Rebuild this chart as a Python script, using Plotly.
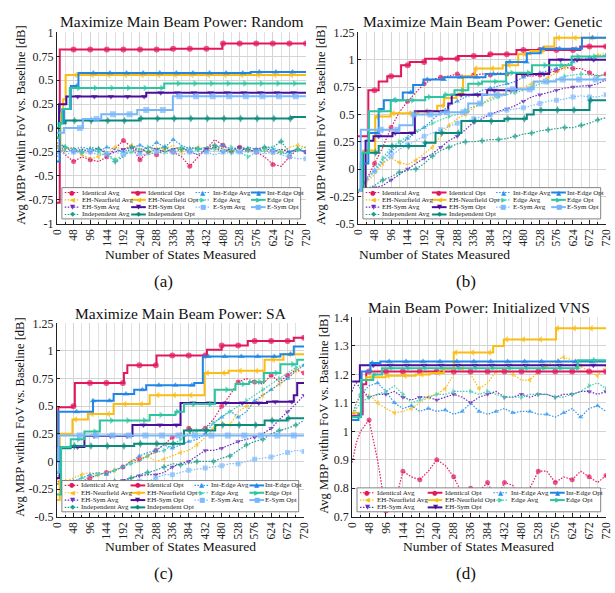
import plotly.graph_objects as go

W, H = 615, 593
SERIF = "Liberation Serif"

# ---------------- shared x grid / ticks ----------------
XA = [0, 6, 12, 24, 48, 72, 96, 120, 144, 168, 192, 216, 240, 264, 288, 312,
      336, 360, 384, 408, 432, 456, 480, 504, 528, 552, 576, 600, 624, 648, 672, 696, 720]
X_TICKS = [0, 48, 96, 144, 192, 240, 288, 336, 384, 432, 480, 528, 576, 624, 672, 720]
X_TICK_TEXT = ["0", "48", "96", "144", "192", "240", "288", "336", "384", "432",
               "480", "528", "576", "624", "672", "720"]

Y_TICKS_A = [-1, -0.75, -0.5, -0.25, 0, 0.25, 0.5, 0.75, 1]
Y_TEXT_A = ["-1", "-0.75", "-0.5", "-0.25", "0", "0.25", "0.5", "0.75", "1"]
Y_TICKS_BC = [-0.5, -0.25, 0, 0.25, 0.5, 0.75, 1, 1.25]
Y_TEXT_BC = ["-0.5", "-0.25", "0", "0.25", "0.5", "0.75", "1", "1.25"]
Y_TICKS_D = [0.7, 0.8, 0.9, 1.0, 1.1, 1.2, 1.3, 1.4]
Y_TEXT_D = ["0.7", "0.8", "0.9", "1", "1.1", "1.2", "1.3", "1.4"]

# ---------------- panel (a): Random ----------------
A_IDENT_AVG = [-0.15, -0.2, -0.22, -0.28, -0.35, -0.3, -0.33, -0.35, -0.3, -0.22,
               -0.13, -0.2, -0.33, -0.25, -0.28, -0.22, -0.25, -0.3, -0.4, -0.3,
               -0.22, -0.12, -0.18, -0.25, -0.2, -0.22, -0.25, -0.3, -0.38, -0.4,
               -0.3, -0.22, -0.25]
A_NEAR_AVG = [-0.15, -0.2, -0.25, -0.22, -0.2, -0.28, -0.32, -0.3, -0.25, -0.2,
              -0.22, -0.18, -0.22, -0.25, -0.2, -0.22, -0.18, -0.25, -0.22, -0.2,
              -0.25, -0.2, -0.22, -0.25, -0.2, -0.22, -0.25, -0.22, -0.28, -0.25,
              -0.2, -0.18, -0.2]
A_SYM_AVG = [-0.2, -0.22, -0.18, -0.2, -0.25, -0.22, -0.25, -0.2, -0.28, -0.25,
             -0.22, -0.2, -0.25, -0.2, -0.22, -0.25, -0.22, -0.2, -0.25, -0.28,
             -0.22, -0.2, -0.25, -0.22, -0.2, -0.25, -0.22, -0.2, -0.25, -0.22,
             -0.25, -0.22, -0.25]
A_INDEP_AVG = [-0.2, -0.18, -0.17, -0.2, -0.22, -0.25, -0.2, -0.22, -0.25, -0.35,
               -0.3, -0.2, -0.22, -0.25, -0.22, -0.2, -0.25, -0.22, -0.2, -0.22,
               -0.2, -0.18, -0.22, -0.25, -0.2, -0.22, -0.25, -0.2, -0.2, -0.14,
               -0.25, -0.22, -0.25]
A_INT_AVG = [-0.3, -0.22, -0.2, -0.25, -0.22, -0.2, -0.22, -0.25, -0.2, -0.22,
             -0.25, -0.2, -0.18, -0.22, -0.15, -0.2, -0.12, -0.18, -0.22, -0.2,
             -0.25, -0.2, -0.18, -0.22, -0.25, -0.2, -0.22, -0.25, -0.22, -0.27,
             -0.25, -0.22, -0.25]
A_EDGE_AVG = [-0.18, -0.2, -0.22, -0.2, -0.22, -0.25, -0.2, -0.25, -0.3, -0.33,
              -0.28, -0.25, -0.22, -0.2, -0.22, -0.25, -0.22, -0.2, -0.25, -0.22,
              -0.2, -0.22, -0.25, -0.2, -0.25, -0.3, -0.25, -0.22, -0.2, -0.25,
              -0.28, -0.22, -0.2]
A_ESYM_AVG = [-0.25, -0.22, -0.25, -0.28, -0.25, -0.27, -0.25, -0.28, -0.27, -0.25,
              -0.28, -0.25, -0.27, -0.28, -0.25, -0.27, -0.25, -0.28, -0.25, -0.27,
              -0.25, -0.28, -0.25, -0.27, -0.25, -0.25, -0.25, -0.27, -0.25, -0.28,
              -0.3, -0.32, -0.32]
A_IDENT_OPT_X = [0, 8, 330, 478, 720]
A_IDENT_OPT_Y = [-0.78, 0.82, 0.83, 0.885, 0.885]
A_NEAR_OPT_X = [0, 10, 18, 25, 720]
A_NEAR_OPT_Y = [-0.2, 0.15, 0.3, 0.555, 0.555]
A_SYM_OPT_X = [0, 6, 27, 258, 720]
A_SYM_OPT_Y = [-0.1, 0.25, 0.33, 0.37, 0.37]
A_INDEP_OPT_X = [0, 5, 25, 238, 678, 720]
A_INDEP_OPT_Y = [0.0, 0.05, 0.078, 0.1, 0.115, 0.115]
A_INT_OPT_X = [0, 8, 20, 40, 62, 560, 720]
A_INT_OPT_Y = [-0.35, 0.05, 0.2, 0.44, 0.575, 0.585, 0.585]
A_EDGE_OPT_X = [0, 8, 15, 37, 310, 720]
A_EDGE_OPT_Y = [-0.1, 0.05, 0.2, 0.42, 0.465, 0.465]
A_ESYM_OPT_X = [0, 20, 75, 128, 232, 335, 720]
A_ESYM_OPT_Y = [-0.05, 0.0, 0.095, 0.145, 0.19, 0.333, 0.333]

# ---------------- panel (b): Genetic ----------------
B_IDENT_AVG = [-0.22, -0.18, -0.15, -0.1, 0.05, 0.2, 0.38, 0.52, 0.62, 0.7,
               0.78, 0.82, 0.84, 0.85, 0.87, 0.85, 0.86, 0.87, 0.86, 0.88,
               0.87, 0.88, 0.86, 0.85, 0.86, 0.88, 0.9, 0.93, 0.92, 0.92,
               0.88, 0.85, 0.87]
B_NEAR_AVG = [-0.2, -0.18, -0.15, -0.12, -0.05, 0.05, 0.1, 0.06, 0.04, 0.08,
              0.14, 0.2, 0.3, 0.4, 0.46, 0.5, 0.56, 0.6, 0.65, 0.68,
              0.7, 0.72, 0.75, 0.78, 0.8, 0.84, 0.88, 0.93, 0.98, 1.0,
              1.02, 1.04, 1.06]
B_SYM_AVG = [-0.2, -0.2, -0.19, -0.18, -0.17, -0.15, -0.1, -0.05, 0.0, 0.05,
             0.1, 0.14, 0.2, 0.26, 0.3, 0.36, 0.43, 0.46, 0.5, 0.53,
             0.55, 0.58, 0.62, 0.66, 0.68, 0.7, 0.72, 0.74, 0.75, 0.76,
             0.76, 0.78, 0.82]
B_INDEP_AVG = [-0.2, -0.2, -0.19, -0.18, -0.15, -0.1, -0.07, -0.03, -0.01, 0.0,
               0.05, 0.12, 0.17, 0.2, 0.23, 0.25, 0.25, 0.26, 0.27, 0.27,
               0.28, 0.3, 0.32, 0.33, 0.35, 0.36, 0.37, 0.38, 0.38, 0.4,
               0.42, 0.45, 0.47]
B_INT_AVG = [-0.2, -0.18, -0.15, -0.1, -0.02, 0.08, 0.16, 0.22, 0.28, 0.33,
             0.38, 0.45, 0.52, 0.58, 0.62, 0.66, 0.68, 0.72, 0.74, 0.76,
             0.78, 0.8, 0.84, 0.86, 0.88, 0.9, 0.92, 0.95, 0.98, 1.0,
             1.02, 1.03, 1.04]
B_EDGE_AVG = [-0.2, -0.18, -0.15, -0.1, 0.0, 0.1, 0.2, 0.25, 0.3, 0.35,
              0.38, 0.42, 0.45, 0.48, 0.5, 0.54, 0.57, 0.6, 0.63, 0.66,
              0.68, 0.7, 0.72, 0.75, 0.78, 0.8, 0.82, 0.85, 0.86, 0.87,
              0.86, 0.85, 0.86]
B_ESYM_AVG = [-0.2, -0.18, -0.15, -0.1, -0.02, 0.06, 0.12, 0.18, 0.22, 0.26,
              0.3, 0.33, 0.36, 0.39, 0.42, 0.44, 0.46, 0.48, 0.5, 0.52,
              0.54, 0.55, 0.56, 0.58, 0.6, 0.62, 0.63, 0.64, 0.66, 0.67,
              0.66, 0.66, 0.68]
B_IDENT_OPT_X = [0, 30, 60, 85, 125, 150, 195, 290, 380, 460, 645, 720]
B_IDENT_OPT_Y = [0.3, 0.72, 0.8, 0.85, 0.95, 0.98, 1.01, 1.035, 1.05, 1.09, 1.12, 1.12]
B_NEAR_OPT_X = [0, 15, 50, 95, 175, 230, 250, 285, 305, 340, 420, 465, 500, 540, 570, 720]
B_NEAR_OPT_Y = [-0.2, 0.17, 0.48, 0.51, 0.53, 0.58, 0.65, 0.68, 0.85, 0.92, 0.95, 1.05, 1.08, 1.12, 1.2, 1.2]
B_SYM_OPT_X = [0, 22, 45, 100, 165, 262, 272, 375, 460, 555, 720]
B_SYM_OPT_Y = [-0.2, 0.26, 0.3, 0.33, 0.53, 0.6, 0.68, 0.72, 0.87, 1.0, 1.0]
B_INDEP_OPT_X = [0, 15, 60, 195, 225, 300, 425, 490, 510, 672, 720]
B_INDEP_OPT_Y = [-0.2, 0.15, 0.21, 0.24, 0.33, 0.44, 0.46, 0.5, 0.54, 0.63, 0.63]
B_INT_OPT_X = [0, 8, 30, 60, 75, 130, 160, 190, 250, 370, 430, 490, 530, 650, 720]
B_INT_OPT_Y = [-0.2, 0.05, 0.33, 0.55, 0.63, 0.70, 0.77, 0.82, 0.84, 0.87, 0.98, 1.06, 1.1, 1.2, 1.21]
B_EDGE_OPT_X = [0, 12, 32, 95, 195, 250, 280, 320, 360, 430, 505, 620, 720]
B_EDGE_OPT_Y = [-0.2, 0.15, 0.53, 0.63, 0.66, 0.68, 0.72, 0.78, 0.8, 0.88, 0.95, 1.03, 1.04]
B_ESYM_OPT_X = [0, 8, 120, 160, 240, 320, 360, 430, 510, 575, 720]
B_ESYM_OPT_Y = [-0.2, 0.36, 0.4, 0.5, 0.52, 0.6, 0.68, 0.73, 0.8, 0.82, 0.82]

# ---------------- panel (c): SA ----------------
C_IDENT_AVG = [-0.15, -0.2, -0.22, -0.22, -0.2, -0.18, -0.15, -0.12, -0.1, -0.08,
               -0.05, 0.0, 0.02, 0.05, 0.1, 0.15, 0.22, 0.25, 0.3, 0.28,
               0.3, 0.38, 0.5, 0.6, 0.72, 0.75, 0.72, 0.7, 0.78, 0.72,
               0.78, 0.83, 0.8]
C_NEAR_AVG = [-0.2, -0.22, -0.2, -0.18, -0.15, -0.12, -0.1, -0.12, -0.1, -0.08,
              -0.05, 0.0, 0.02, 0.05, 0.0, 0.02, 0.05, 0.08, 0.1, 0.15,
              0.22, 0.3, 0.35, 0.33, 0.45, 0.5, 0.52, 0.6, 0.65, 0.7,
              0.75, 0.82, 0.88]
C_SYM_AVG = [-0.2, -0.2, -0.2, -0.22, -0.2, -0.2, -0.2, -0.18, -0.2, -0.2,
             -0.17, -0.15, -0.13, -0.12, -0.12, -0.1, -0.05, -0.02, 0.0, 0.05,
             0.1, 0.1, 0.12, 0.15, 0.18, 0.2, 0.22, 0.25, 0.3, 0.38,
             0.45, 0.52, 0.6]
C_INDEP_AVG = [-0.2, -0.2, -0.2, -0.2, -0.22, -0.2, -0.2, -0.2, -0.2, -0.18,
               -0.18, -0.15, -0.12, -0.1, -0.08, -0.05, -0.02, -0.03, -0.02, 0.0,
               0.0, 0.0, 0.03, 0.05, 0.1, 0.15, 0.18, 0.2, 0.25, 0.28,
               0.3, 0.33, 0.37]
C_INT_AVG = [-0.1, -0.15, -0.17, -0.18, -0.18, -0.15, -0.12, -0.1, -0.12, -0.08,
             -0.05, 0.0, 0.05, 0.08, 0.1, 0.15, 0.12, 0.15, 0.18, 0.2,
             0.25, 0.35, 0.4, 0.46, 0.4, 0.45, 0.55, 0.6, 0.65, 0.7,
             0.75, 0.82, 0.87]
C_EDGE_AVG = [-0.2, -0.2, -0.2, -0.2, -0.18, -0.15, -0.15, -0.12, -0.1, -0.08,
              -0.05, -0.02, 0.0, 0.05, 0.08, 0.1, 0.15, 0.2, 0.25, 0.28,
              0.3, 0.35, 0.4, 0.45, 0.5, 0.55, 0.6, 0.65, 0.7, 0.75,
              0.8, 0.85, 0.88]
C_ESYM_AVG = [-0.1, -0.15, -0.17, -0.2, -0.22, -0.22, -0.25, -0.25, -0.22, -0.2,
              -0.2, -0.2, -0.18, -0.18, -0.15, -0.12, -0.12, -0.1, -0.08, -0.07,
              -0.06, -0.05, -0.04, -0.02, -0.02, 0.0, 0.02, 0.03, 0.04, 0.06,
              0.08, 0.1, 0.09]
C_IDENT_OPT_X = [0, 4, 45, 52, 195, 205, 290, 437, 480, 556, 690, 720]
C_IDENT_OPT_Y = [0.14, 0.49, 0.5, 0.71, 0.8, 0.87, 0.96, 1.01, 1.05, 1.09, 1.12, 1.12]
C_NEAR_OPT_X = [0, 8, 45, 90, 165, 270, 430, 500, 605, 660, 720]
C_NEAR_OPT_Y = [-0.35, 0.25, 0.38, 0.43, 0.52, 0.6, 0.8, 0.82, 0.92, 0.97, 0.97]
C_SYM_OPT_X = [0, 8, 80, 220, 360, 612, 690, 700, 720]
C_SYM_OPT_Y = [-0.15, 0.13, 0.23, 0.33, 0.53, 0.54, 0.6, 0.71, 0.71]
C_INDEP_OPT_X = [0, 7, 40, 225, 370, 461, 605, 670, 720]
C_INDEP_OPT_Y = [-0.1, 0.12, 0.14, 0.16, 0.28, 0.33, 0.37, 0.39, 0.395]
C_INT_OPT_X = [0, 4, 105, 165, 225, 260, 400, 425, 651, 690, 720]
C_INT_OPT_Y = [0.0, 0.45, 0.55, 0.61, 0.65, 0.69, 0.71, 0.95, 0.97, 1.04, 1.04]
C_EDGE_OPT_X = [0, 12, 40, 80, 125, 270, 345, 370, 460, 520, 560, 603, 651, 700, 720]
C_EDGE_OPT_Y = [-0.3, 0.13, 0.2, 0.27, 0.37, 0.42, 0.45, 0.52, 0.65, 0.7, 0.72, 0.8, 0.88, 0.92, 0.92]
C_ESYM_OPT_X = [0, 5, 720]
C_ESYM_OPT_Y = [-0.1, 0.235, 0.235]

# ---------------- panel (d): Initialized VNS ----------------
D_IDENT_AVG = [0.89, 0.93, 0.96, 1.0, 1.04, 0.9, 0.72, 0.74, 0.86, 0.84,
               0.83, 0.86, 0.9, 0.88, 0.84, 0.78, 0.8, 0.79, 0.82, 0.76,
               0.82, 0.81, 0.74, 0.8, 0.86, 0.86, 0.82, 0.84, 0.83, 0.86,
               0.84, 0.82, 0.845]
D_NEAR_AVG = [1.06, 1.08, 1.1, 1.12, 1.13, 1.1, 1.08, 1.065, 1.07, 1.08,
              1.1, 1.12, 1.13, 1.15, 1.2, 1.22, 1.2, 1.15, 1.17, 1.21,
              1.22, 1.2, 1.18, 1.18, 1.21, 1.23, 1.25, 1.26, 1.25, 1.23,
              1.21, 1.195, 1.23]
D_SYM_AVG = [1.14, 1.16, 1.17, 1.15, 1.12, 1.13, 1.13, 1.14, 1.12, 1.11,
             1.12, 1.12, 1.11, 1.12, 1.13, 1.12, 1.1, 1.12, 1.13, 1.14,
             1.12, 1.12, 1.13, 1.12, 1.13, 1.13, 1.12, 1.13, 1.13, 1.14,
             1.14, 1.13, 1.14]
D_INT_AVG = [1.05, 1.08, 1.1, 1.13, 1.16, 1.17, 1.14, 1.1, 1.08, 1.09,
             1.07, 1.08, 1.07, 1.075, 1.06, 1.07, 1.1, 1.07, 1.06, 1.07,
             1.08, 1.065, 1.07, 1.07, 1.06, 1.06, 1.05, 1.065, 1.08, 1.05,
             1.08, 1.09, 1.07]
D_EDGE_AVG = [1.04, 1.06, 1.08, 1.1, 1.12, 1.13, 1.14, 1.16, 1.13, 1.1,
              1.11, 1.12, 1.13, 1.13, 1.14, 1.14, 1.14, 1.13, 1.14, 1.13,
              1.12, 1.12, 1.12, 1.13, 1.13, 1.13, 1.12, 1.12, 1.13, 1.14,
              1.16, 1.17, 1.15]
D_IDENT_OPT_X = [0, 22, 30, 40, 720]
D_IDENT_OPT_Y = [1.055, 1.06, 1.165, 1.21, 1.21]
D_NEAR_OPT_X = [0, 25, 40, 95, 180, 220, 260, 288, 400, 430, 578, 720]
D_NEAR_OPT_Y = [1.065, 1.18, 1.19, 1.195, 1.2, 1.205, 1.22, 1.277, 1.3, 1.323, 1.362, 1.362]
D_SYM_OPT_X = [0, 22, 720]
D_SYM_OPT_Y = [1.175, 1.232, 1.232]
D_INT_OPT_X = [0, 18, 27, 52, 80, 720]
D_INT_OPT_Y = [1.04, 1.06, 1.21, 1.24, 1.245, 1.245]
D_EDGE_OPT_X = [0, 25, 60, 85, 640, 720]
D_EDGE_OPT_Y = [1.05, 1.18, 1.2, 1.222, 1.25, 1.25]

# ---------------- styles ----------------
SERIES = ["Identical", "EH-Nearfield", "EH-Sym", "Independent", "Int-Edge", "Edge", "E-Sym"]
COL_OPT = {"Identical": "#E3175E", "EH-Nearfield": "#FBBD12", "EH-Sym": "#4A0E9A",
           "Independent": "#0B8B7E", "Int-Edge": "#1F86E6", "Edge": "#2DC5A0", "E-Sym": "#78B6FA"}
COL_AVG = {"Identical": "#E3175E", "EH-Nearfield": "#FBBD12", "EH-Sym": "#6B2EBF",
           "Independent": "#1C9E8E", "Int-Edge": "#2B95F0", "Edge": "#3DCFAC", "E-Sym": "#7DBBFF"}
SYMBOL = {"Identical": "circle", "EH-Nearfield": "triangle-left", "EH-Sym": "triangle-down",
          "Independent": "star-diamond", "Int-Edge": "triangle-up", "Edge": "triangle-right",
          "E-Sym": "square"}
GLYPH = {"Identical": "●", "EH-Nearfield": "◀", "EH-Sym": "▼", "Independent": "◆",
         "Int-Edge": "▲", "Edge": "▶", "E-Sym": "■"}
MARK_OFF = {"Identical": 0, "EH-Nearfield": 6, "EH-Sym": 12, "Independent": 3,
            "Int-Edge": 9, "Edge": 15, "E-Sym": 18}
AVG_DASH = "1.5px,1.5px"

PANELS = [
    dict(xa="x", ya="y", box=(52, 26, 306, 222), yr=[-1, 1], yt=Y_TICKS_A, ytt=Y_TEXT_A,
         title="Maximize Main Beam Power: Random", cap="(a)",
         title_y=15, ytitle_x=15, xtitle=(178, 253), capxy=(161, 281),
         data={"Identical": (A_IDENT_AVG, A_IDENT_OPT_X, A_IDENT_OPT_Y),
               "EH-Nearfield": (A_NEAR_AVG, A_NEAR_OPT_X, A_NEAR_OPT_Y),
               "EH-Sym": (A_SYM_AVG, A_SYM_OPT_X, A_SYM_OPT_Y),
               "Independent": (A_INDEP_AVG, A_INDEP_OPT_X, A_INDEP_OPT_Y),
               "Int-Edge": (A_INT_AVG, A_INT_OPT_X, A_INT_OPT_Y),
               "Edge": (A_EDGE_AVG, A_EDGE_OPT_X, A_EDGE_OPT_Y),
               "E-Sym": (A_ESYM_AVG, A_ESYM_OPT_X, A_ESYM_OPT_Y)},
         cols=[["Identical", "EH-Nearfield", "EH-Sym", "Independent"], ["Int-Edge", "Edge", "E-Sym"]]),
    dict(xa="x2", ya="y2", box=(359, 26, 612, 222), yr=[-0.5, 1.25], yt=Y_TICKS_BC, ytt=Y_TEXT_BC,
         title="Maximize Main Beam Power: Genetic", cap="(b)",
         title_y=15, ytitle_x=321, xtitle=(437, 253), capxy=(469, 281),
         data={"Identical": (B_IDENT_AVG, B_IDENT_OPT_X, B_IDENT_OPT_Y),
               "EH-Nearfield": (B_NEAR_AVG, B_NEAR_OPT_X, B_NEAR_OPT_Y),
               "EH-Sym": (B_SYM_AVG, B_SYM_OPT_X, B_SYM_OPT_Y),
               "Independent": (B_INDEP_AVG, B_INDEP_OPT_X, B_INDEP_OPT_Y),
               "Int-Edge": (B_INT_AVG, B_INT_OPT_X, B_INT_OPT_Y),
               "Edge": (B_EDGE_AVG, B_EDGE_OPT_X, B_EDGE_OPT_Y),
               "E-Sym": (B_ESYM_AVG, B_ESYM_OPT_X, B_ESYM_OPT_Y)},
         cols=[["Identical", "EH-Nearfield", "EH-Sym", "Independent"], ["Int-Edge", "Edge", "E-Sym"]]),
    dict(xa="x3", ya="y3", box=(52, 324, 304, 522), yr=[-0.5, 1.25], yt=Y_TICKS_BC, ytt=Y_TEXT_BC,
         title="Maximize Main Beam Power: SA", cap="(c)",
         title_y=314, ytitle_x=14, xtitle=(178, 553), capxy=(161, 580),
         data={"Identical": (C_IDENT_AVG, C_IDENT_OPT_X, C_IDENT_OPT_Y),
               "EH-Nearfield": (C_NEAR_AVG, C_NEAR_OPT_X, C_NEAR_OPT_Y),
               "EH-Sym": (C_SYM_AVG, C_SYM_OPT_X, C_SYM_OPT_Y),
               "Independent": (C_INDEP_AVG, C_INDEP_OPT_X, C_INDEP_OPT_Y),
               "Int-Edge": (C_INT_AVG, C_INT_OPT_X, C_INT_OPT_Y),
               "Edge": (C_EDGE_AVG, C_EDGE_OPT_X, C_EDGE_OPT_Y),
               "E-Sym": (C_ESYM_AVG, C_ESYM_OPT_X, C_ESYM_OPT_Y)},
         cols=[["Identical", "EH-Nearfield", "EH-Sym", "Independent"], ["Int-Edge", "Edge", "E-Sym"]]),
    dict(xa="x4", ya="y4", box=(353, 318, 612, 522), yr=[0.7, 1.4], yt=Y_TICKS_D, ytt=Y_TEXT_D,
         title="Main Beam Power: Initialized VNS", cap="(d)",
         title_y=308, ytitle_x=324, xtitle=(482, 553), capxy=(469, 580),
         data={"Identical": (D_IDENT_AVG, D_IDENT_OPT_X, D_IDENT_OPT_Y),
               "EH-Nearfield": (D_NEAR_AVG, D_NEAR_OPT_X, D_NEAR_OPT_Y),
               "EH-Sym": (D_SYM_AVG, D_SYM_OPT_X, D_SYM_OPT_Y),
               "Int-Edge": (D_INT_AVG, D_INT_OPT_X, D_INT_OPT_Y),
               "Edge": (D_EDGE_AVG, D_EDGE_OPT_X, D_EDGE_OPT_Y)},
         cols=[["Identical", "EH-Nearfield", "EH-Sym"], ["Int-Edge", "Edge"]]),
]


def step_value(xs, ys, x):
    v = ys[0]
    for xi, yi in zip(xs, ys):
        if xi <= x:
            v = yi
    return v


fig = go.Figure()
annotations = []
shapes = []
layout_axes = {}

for p in PANELS:
    x0, y0, x1, y1 = p["box"]
    xkey = "xaxis" + p["xa"][1:]
    ykey = "yaxis" + p["ya"][1:]
    layout_axes[xkey] = dict(
        domain=[x0 / W, x1 / W], anchor=p["ya"], range=[0, 720],
        tickmode="array", tickvals=X_TICKS, ticktext=X_TICK_TEXT, tickangle=-90,
        tickfont=dict(family=SERIF, size=11.5, color="#222"),
        ticks="inside", ticklen=4, tickcolor="#222",
        showline=True, linecolor="#222", linewidth=1,
        showgrid=True, gridcolor="#d4d4d4", gridwidth=1, zeroline=False,
        minor=dict(tick0=0, dtick=24, showgrid=True, gridcolor="#e2e2e2", gridwidth=1,
                   ticks="inside", ticklen=2, tickcolor="#222"),
    )
    layout_axes[ykey] = dict(
        domain=[1 - y1 / H, 1 - y0 / H], anchor=p["xa"], range=p["yr"],
        tickmode="array", tickvals=p["yt"], ticktext=p["ytt"],
        tickfont=dict(family=SERIF, size=12, color="#222"),
        ticks="inside", ticklen=3, tickcolor="#222",
        showline=True, linecolor="#222", linewidth=1,
        showgrid=True, gridcolor="#d4d4d4", gridwidth=1, zeroline=False,
    )

    names = [n for n in SERIES if n in p["data"]]
    # average curves (dotted, thin)
    for i, n in enumerate(names):
        avg = p["data"][n][0]
        xs = XA[:len(avg)]
        par = i % 2
        sizes = [5 if (x >= 24 and (x // 24) % 2 == par and x % 24 == 0) else 0 for x in xs]
        fig.add_trace(go.Scatter(
            x=xs, y=avg[:len(xs)], xaxis=p["xa"], yaxis=p["ya"], mode="lines+markers",
            line=dict(color=COL_AVG[n], width=1.2, dash=AVG_DASH),
            marker=dict(symbol=SYMBOL[n], size=sizes, color=COL_AVG[n], line=dict(width=0)),
            showlegend=False, hoverinfo="skip"))
    # optimum curves (solid steps)
    for n in names:
        ox, oy = p["data"][n][1], p["data"][n][2]
        marks = list(range(48 + MARK_OFF[n], 721, 48))
        allx = sorted(set(ox) | set(marks))
        ally = [step_value(ox, oy, x) for x in allx]
        sizes = [6 if x in marks else 0 for x in allx]
        fig.add_trace(go.Scatter(
            x=allx, y=ally, xaxis=p["xa"], yaxis=p["ya"], mode="lines+markers",
            line=dict(color=COL_OPT[n], width=2, shape="hv"),
            marker=dict(symbol=SYMBOL[n], size=sizes, color=COL_OPT[n], line=dict(width=0)),
            showlegend=False, hoverinfo="skip"))

    # texts
    cx = (x0 + x1) / 2
    annotations.append(dict(text=p["title"], x=cx / W, y=1 - p["title_y"] / H, xref="paper", yref="paper",
                            showarrow=False, xanchor="center", yanchor="middle",
                            font=dict(family=SERIF, size=15.5, color="#111")))
    annotations.append(dict(text="Avg MBP within FoV vs. Baseline [dB]", x=p["ytitle_x"] / W,
                            y=1 - ((y0 + y1) / 2 - 3) / H, xref="paper", yref="paper", textangle=-90,
                            showarrow=False, xanchor="center", yanchor="middle",
                            font=dict(family=SERIF, size=12.5, color="#111")))
    annotations.append(dict(text="Number of States Measured", x=p["xtitle"][0] / W, y=1 - p["xtitle"][1] / H,
                            xref="paper", yref="paper", showarrow=False, xanchor="center", yanchor="middle",
                            font=dict(family=SERIF, size=13.5, color="#111")))
    annotations.append(dict(text=p["cap"], x=p["capxy"][0] / W, y=1 - p["capxy"][1] / H,
                            xref="paper", yref="paper", showarrow=False, xanchor="center", yanchor="middle",
                            font=dict(family=SERIF, size=17, color="#111")))

    # manual compact legend
    w = x1 - x0
    h = y1 - y0
    nrows = max(len(c) for c in p["cols"])
    pitch = 7.5
    bb = 5
    bt = bb + 5 + (nrows - 1) * pitch + 4.5
    bx0, bx1 = 5, w - 5.5
    bw = bx1 - bx0
    xr, yr = p["xa"] + " domain", p["ya"] + " domain"
    shapes.append(dict(type="rect", xref=xr, yref=yr, x0=bx0 / w, x1=bx1 / w, y0=bb / h, y1=bt / h,
                       fillcolor="white", line=dict(color="#666", width=0.8), layer="above"))
    col_line = [0.012, 0.29, 0.56, 0.792]
    col_text = [0.078, 0.357, 0.627, 0.855]
    entries = []
    for gi, grp in enumerate(p["cols"]):
        for ri, n in enumerate(grp):
            entries.append((gi * 2, ri, n, "Avg"))
            entries.append((gi * 2 + 1, ri, n, "Opt"))
    for ci, ri, n, kind in entries:
        yc = bt - 5 - ri * pitch
        lx0 = bx0 + col_line[ci] * bw
        lx1 = lx0 + 15
        col = COL_AVG[n] if kind == "Avg" else COL_OPT[n]
        shapes.append(dict(type="line", xref=xr, yref=yr, x0=lx0 / w, x1=lx1 / w, y0=yc / h, y1=yc / h,
                           line=dict(color=col, width=1.2 if kind == "Avg" else 2,
                                     dash=AVG_DASH if kind == "Avg" else "solid"), layer="above"))
        annotations.append(dict(text=GLYPH[n], x=(lx0 + lx1) / 2 / w, y=yc / h, xref=xr, yref=yr,
                                showarrow=False, xanchor="center", yanchor="middle", borderpad=0,
                                font=dict(family="DejaVu Sans", size=6.5, color=col)))
        annotations.append(dict(text=f"{n} {kind}", x=(bx0 + col_text[ci] * bw) / w, y=yc / h,
                                xref=xr, yref=yr, showarrow=False, xanchor="left", yanchor="middle",
                                borderpad=0, font=dict(family=SERIF, size=7, color="#222")))

fig.update_layout(
    width=W, height=H, margin=dict(l=0, r=0, t=0, b=0),
    paper_bgcolor="white", plot_bgcolor="white",
    showlegend=False, annotations=annotations, shapes=shapes,
    **layout_axes,
)
fig.write_html("out.html")
